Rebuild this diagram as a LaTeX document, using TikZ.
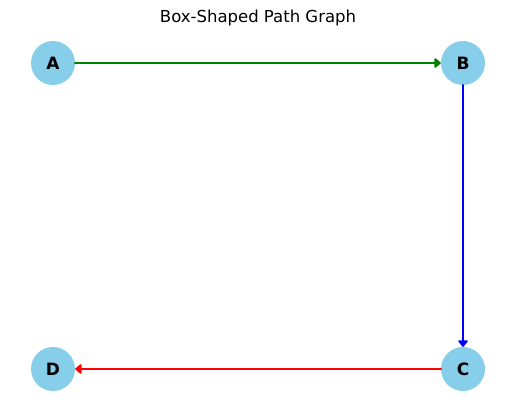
\documentclass[tikz,border=0pt]{standalone}
\usepackage{fontspec}
\setmainfont{DejaVu Sans}
\usetikzlibrary{arrows.meta}
\definecolor{skyblue}{HTML}{87CEEB}
\definecolor{linkgreen}{HTML}{008000}

\begin{document}
\begin{tikzpicture}[x=1pt,y=-1pt,line cap=round,
		vertex/.style={circle,fill=skyblue,minimum size=44pt,inner sep=0pt,font=\fontsize{17}{18}\selectfont\bfseries},
		link/.style={line width=2.8pt,-{Triangle[length=7pt,width=11pt,round]}}]
	\useasboundingbox (0,0) rectangle (515,411);
	\node[font=\fontsize{16.5}{18}\selectfont] (title) at (258,18) {Box-Shaped Path Graph};
	\node[vertex] (A) at (53,63) {A};
	\node[vertex] (B) at (463,63) {B};
	\node[vertex] (C) at (463,369) {C};
	\node[vertex] (D) at (53,369) {D};
	\draw[link,linkgreen] (A) -- (B);
	\draw[link,blue] (B) -- (C);
	\draw[link,red] (C) -- (D);
\end{tikzpicture}
\end{document}
